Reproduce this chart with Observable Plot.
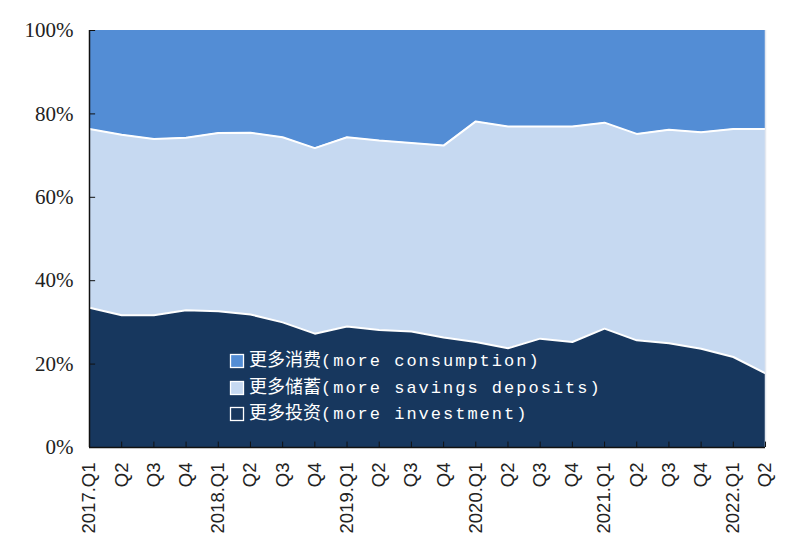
<!DOCTYPE html>
<html>
<head>
<meta charset="utf-8">
<script src="https://cdn.jsdelivr.net/npm/d3@7"></script>
<script src="https://cdn.jsdelivr.net/npm/@observablehq/plot@0.6"></script>
<style>
  html, body { margin: 0; padding: 0; background: #fff; }
</style>
</head>
<body>
<div id="chart"></div>
<script>
const quarters = ["2017.Q1","Q2","Q3","Q4","2018.Q1","Q2","Q3","Q4","2019.Q1","Q2","Q3","Q4",
  "2020.Q1","Q2","Q3","Q4","2021.Q1","Q2","Q3","Q4","2022.Q1","Q2"];
const investment  = [33.5,31.7,31.7,32.9,32.7,31.9,30.0,27.3,29.0,28.2,27.8,26.4,25.3,23.8,26.1,25.3,28.5,25.7,25.0,23.7,21.7,17.8];
const savings     = [42.9,43.3,42.3,41.4,42.7,43.6,44.4,44.5,45.4,45.4,45.2,46.0,52.9,53.2,50.9,51.7,49.4,49.5,51.2,51.9,54.7,58.6];
const consumption = [23.6,25.0,26.0,25.7,24.6,24.5,25.6,28.2,25.6,26.4,27.0,27.6,21.8,23.0,23.0,23.0,22.1,24.8,23.8,24.4,23.6,23.6];
const seriesKeys = ["investment","savings","consumption"];
const seriesColors = ["#17375E","#C6D9F1","#538DD5"];
const legendCN = ["更多消费","更多储蓄","更多投资"];
const legendEN = ["(more consumption)","(more savings deposits)","(more investment)"];
const legendKeys = ["consumption","savings","investment"];
const yTicks = [0,20,40,60,80,100];

const seriesValues = {investment, savings, consumption};
const data = quarters.flatMap((q, i) => seriesKeys.map(s => ({i, q, series: s, value: seriesValues[s][i]})));
const idx = quarters.map((q, i) => i);

const chart = Plot.plot({
  width: 787,
  height: 546,
  marginLeft: 89,
  marginRight: 22,
  marginTop: 30,
  marginBottom: 99,
  style: {background: "#fff"},
  x: {type: "linear", domain: [0, quarters.length - 1]},
  y: {domain: [0, 100]},
  color: {domain: seriesKeys, range: seriesColors},
  marks: [
    Plot.areaY(data, {x: "i", y: "value", fill: "series", order: seriesKeys, curve: "linear"}),
    Plot.lineY(data, Plot.stackY2({x: "i", y: "value", z: "series", order: seriesKeys,
      filter: d => d.series !== "consumption", stroke: "#ffffff", strokeWidth: 2, curve: "linear"})),
    Plot.ruleX([quarters.length - 1], {stroke: "#e4e8ef", strokeWidth: 1.5}),
    Plot.ruleX(idx, {x: d => d, y1: 0, y2: 1.3, stroke: "#111", strokeWidth: 1}),
    Plot.ruleY(yTicks, {y: d => d, x1: 0, x2: 0.19, stroke: "#111", strokeWidth: 1}),
    Plot.ruleX([0], {stroke: "#111", strokeWidth: 1.5}),
    Plot.ruleY([0], {stroke: "#111", strokeWidth: 1.5}),
    Plot.axisY({ticks: yTicks, tickSize: 0, tickPadding: 16, tickFormat: d => d + "%",
      fontSize: 21, fontFamily: "Liberation Serif", fill: "#222", label: null}),
    Plot.axisX({ticks: idx, tickSize: 0, tickPadding: 15, tickRotate: -90, tickFormat: i => quarters[i],
      fontSize: 18.5, fontFamily: "Liberation Sans", fill: "#222", label: null})
  ]
});
document.getElementById("chart").appendChild(chart);

// Legend inside plot area
const svg = d3.select(chart);
const lg = svg.append("g").attr("class", "legend").attr("text-anchor", "start");
const colorOf = k => seriesColors[seriesKeys.indexOf(k)];
const rowY = [362, 389, 415];
legendKeys.forEach((k, j) => {
  lg.append("rect")
    .attr("x", 230.5).attr("y", rowY[j] - 7.5)
    .attr("width", 13).attr("height", 13)
    .attr("fill", colorOf(k)).attr("stroke", "#fff").attr("stroke-width", 1.3);
  const t = lg.append("text")
    .attr("x", 249).attr("y", rowY[j])
    .attr("dy", "0.36em")
    .attr("text-anchor", "start")
    .attr("fill", "#fff");
  t.append("tspan")
    .attr("font-family", "Noto Sans CJK SC")
    .attr("font-size", 18)
    .text(legendCN[j]);
  t.append("tspan")
    .attr("font-family", "Liberation Mono")
    .attr("font-size", 17)
    .attr("letter-spacing", 2)
    .text(legendEN[j]);
});
</script>
</body>
</html>
